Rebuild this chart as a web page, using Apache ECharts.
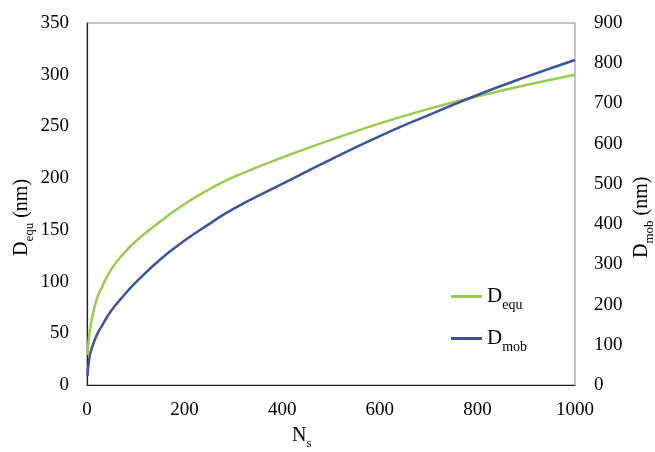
<!DOCTYPE html>
<html>
<head>
<meta charset="utf-8">
<script src="https://cdn.jsdelivr.net/npm/echarts@6/dist/echarts.min.js"></script>
<style>
  html, body { margin: 0; padding: 0; background: #fff; }
  #chart { width: 655px; height: 452px; }
</style>
</head>
<body>
<div id="chart"></div>
<script>
  // N_s values where the curves were read
  var ns = [1, 5, 10, 20, 30, 50, 75, 100, 150, 200, 250, 300, 400, 500, 600, 700, 800, 900, 1000];
  // D_equ (nm), left axis
  var dEqu = [29, 50, 64, 83, 94, 112, 127, 139, 158, 175, 189, 201, 220, 237, 253, 267, 279, 290, 300];
  // D_mob (nm), right axis
  var dMob = [22, 68, 92, 124, 146, 185, 222, 255, 312, 359, 400, 438, 500, 561, 619, 671, 721, 766, 808];

  var leftTicks = [0, 50, 100, 150, 200, 250, 300, 350];
  var rightTicks = [0, 100, 200, 300, 400, 500, 600, 700, 800, 900];

  var font = 'Liberation Serif';
  var green = '#98CC4E';
  var blue = '#3C5499';

  var myChart = echarts.init(document.getElementById('chart'));

  var subRich = {
    b: { fontFamily: font, fontSize: 20, fill: '#000', verticalAlign: 'bottom' },
    s: { fontFamily: font, fontSize: 13, fill: '#000', verticalAlign: 'bottom', padding: [0, 0, -4, 0] }
  };

  var option = {
    animation: false,
    backgroundColor: '#fff',
    grid: {
      left: 87,
      right: 80,
      top: 23,
      bottom: 67,
      show: true,
      borderColor: '#8c8c8c',
      borderWidth: 1
    },
    legend: {
      orient: 'vertical',
      left: 446,
      top: 281,
      icon: 'rect',
      itemWidth: 31,
      itemHeight: 3,
      itemGap: 16,
      data: ['equ', 'mob'],
      formatter: function (name) {
        return '{b|D}{s|' + name + '}';
      },
      textStyle: {
        color: '#000',
        rich: {
          b: { fontFamily: font, fontSize: 21, color: '#000', verticalAlign: 'bottom' },
          s: { fontFamily: font, fontSize: 14, color: '#000', verticalAlign: 'bottom', padding: [0, 0, -5, 0] }
        }
      }
    },
    xAxis: {
      type: 'value',
      min: 0,
      max: 1000,
      interval: 200,
      axisLine: { show: true, lineStyle: { color: '#222', width: 1.2 } },
      axisTick: { show: false },
      splitLine: { show: false },
      axisLabel: {
        margin: 16, color: '#000', fontFamily: font, fontSize: 19,
        formatter: function (v) { return String(v); }
      }
    },
    yAxis: [{
      type: 'value',
      min: 0,
      max: 350,
      interval: 50,
      axisLine: { show: true, lineStyle: { color: '#222', width: 1.2 } },
      axisTick: { show: false },
      splitLine: { show: false },
      axisLabel: {
        margin: 18, color: '#000', fontFamily: font, fontSize: 19,
        formatter: function (v) { return leftTicks.indexOf(v) >= 0 ? String(v) : ''; }
      }
    }, {
      type: 'value',
      min: 0,
      max: 900,
      interval: 100,
      position: 'right',
      axisLine: { show: false },
      axisTick: { show: false },
      splitLine: { show: false },
      axisLabel: {
        margin: 19, color: '#000', fontFamily: font, fontSize: 19,
        formatter: function (v) { return rightTicks.indexOf(v) >= 0 ? String(v) : ''; }
      }
    }],
    graphic: [{
      type: 'text',
      left: 292,
      top: 426,
      style: { text: '{b|N}{s|s}', rich: subRich }
    }, {
      type: 'text',
      x: 12,
      y: 256,
      rotation: Math.PI / 2,
      style: { text: '{b|D}{s|equ}{b| (nm)}', rich: subRich }
    }, {
      type: 'text',
      x: 632,
      y: 258,
      rotation: Math.PI / 2,
      style: { text: '{b|D}{s|mob}{b| (nm)}', rich: subRich }
    }],
    series: [{
      name: 'equ',
      type: 'line',
      yAxisIndex: 0,
      smooth: true,
      symbol: 'none',
      lineStyle: { color: green, width: 2.5 },
      itemStyle: { color: green },
      data: ns.map(function (n, i) { return [n, dEqu[i]]; })
    }, {
      name: 'mob',
      type: 'line',
      yAxisIndex: 1,
      smooth: true,
      symbol: 'none',
      lineStyle: { color: blue, width: 2.5 },
      itemStyle: { color: blue },
      data: ns.map(function (n, i) { return [n, dMob[i]]; })
    }]
  };

  myChart.setOption(option);
</script>
</body>
</html>
